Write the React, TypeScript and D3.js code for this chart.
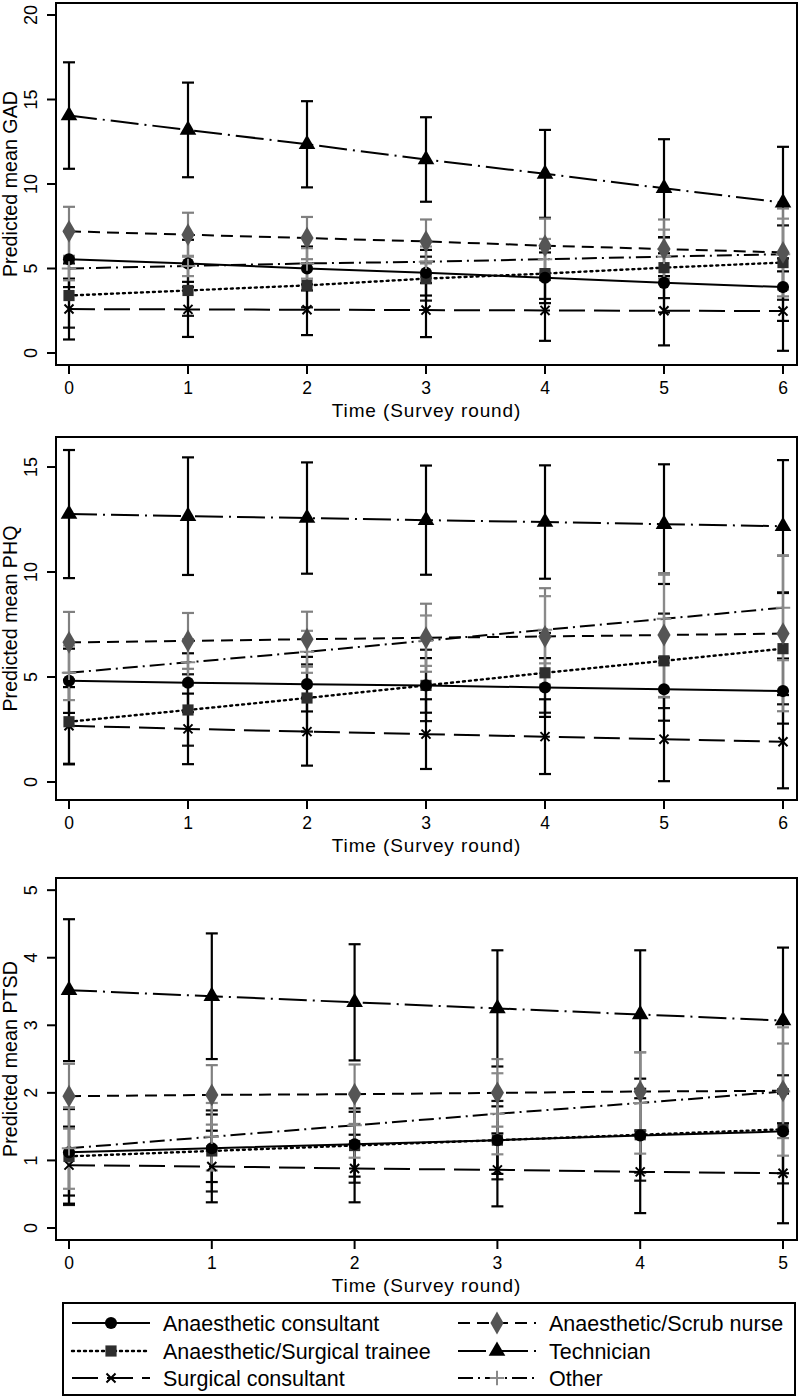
import React from 'react';
import * as d3 from 'd3';

const W = 800;
const H = 1398;

// groups, in legend order (left column then right column, row by row)
const groups = [
  'Anaesthetic consultant',
  'Anaesthetic/Scrub nurse',
  'Anaesthetic/Surgical trainee',
  'Technician',
  'Surgical consultant',
  'Other',
];

// GAD: predicted means and CI half-widths, one row per group
const gadRounds = [0, 1, 2, 3, 4, 5, 6];
const gadMean = [
  [5.55, 5.3, 5.0, 4.75, 4.45, 4.15, 3.9],
  [7.2, 7.0, 6.8, 6.6, 6.35, 6.15, 5.95],
  [3.4, 3.7, 4.0, 4.4, 4.7, 5.05, 5.35],
  [14.05, 13.2, 12.35, 11.45, 10.6, 9.75, 8.9],
  [2.6, 2.58, 2.56, 2.54, 2.52, 2.5, 2.48],
  [5.0, 5.15, 5.3, 5.4, 5.55, 5.7, 5.85],
];
const gadHalf = [
  [1.65, 1.4, 1.3, 1.35, 1.5, 1.75, 2.0],
  [1.45, 1.3, 1.25, 1.3, 1.6, 1.75, 2.6],
  [1.9, 1.5, 1.3, 1.3, 1.5, 1.8, 2.2],
  [3.15, 2.8, 2.55, 2.5, 2.6, 2.9, 3.3],
  [1.8, 1.63, 1.5, 1.6, 1.8, 2.05, 2.35],
  [0.7, 0.6, 0.9, 0.9, 1.2, 1.6, 2.1],
];
const gadTicks = [0, 5, 10, 15, 20];

// PHQ
const phqRounds = [0, 1, 2, 3, 4, 5, 6];
const phqMean = [
  [4.82, 4.73, 4.66, 4.6, 4.5, 4.42, 4.33],
  [6.65, 6.72, 6.8, 6.87, 6.93, 7.0, 7.07],
  [2.87, 3.43, 4.0, 4.6, 5.2, 5.77, 6.35],
  [12.76, 12.66, 12.57, 12.47, 12.38, 12.28, 12.18],
  [2.68, 2.53, 2.4, 2.28, 2.16, 2.04, 1.92],
  [5.2, 5.7, 6.2, 6.73, 7.25, 7.77, 8.3],
];
const phqHalf = [
  [1.53, 1.4, 1.3, 1.3, 1.4, 1.5, 1.55],
  [1.45, 1.33, 1.31, 1.62, 2.3, 2.95, 3.7],
  [2.0, 1.7, 1.6, 1.7, 1.9, 2.25, 2.65],
  [3.05, 2.8, 2.65, 2.6, 2.7, 2.85, 3.15],
  [1.84, 1.68, 1.62, 1.66, 1.78, 2.0, 2.22],
  [1.3, 1.1, 1.0, 1.2, 1.6, 2.1, 2.5],
];
const phqTicks = [0, 5, 10, 15];

// PTSD
const ptsdRounds = [0, 1, 2, 3, 4, 5];
const ptsdMean = [
  [1.12, 1.18, 1.24, 1.3, 1.37, 1.43],
  [1.95, 1.97, 1.98, 2.0, 2.02, 2.03],
  [1.06, 1.14, 1.22, 1.3, 1.38, 1.46],
  [3.52, 3.43, 3.34, 3.25, 3.16, 3.07],
  [0.93, 0.91, 0.88, 0.86, 0.83, 0.81],
  [1.18, 1.35, 1.52, 1.69, 1.85, 2.02],
];
const ptsdHalf = [
  [0.64, 0.5, 0.48, 0.5, 0.55, 0.62],
  [0.48, 0.44, 0.44, 0.5, 0.58, 0.7],
  [0.72, 0.6, 0.55, 0.58, 0.68, 0.8],
  [1.05, 0.93, 0.86, 0.86, 0.95, 1.08],
  [0.57, 0.53, 0.5, 0.54, 0.61, 0.74],
  [0.6, 0.5, 0.48, 0.6, 0.75, 0.95],
];
const ptsdTicks = [0, 1, 2, 3, 4, 5];

const panels = [
  { label: 'Predicted mean GAD', rounds: gadRounds, mean: gadMean, half: gadHalf, ticks: gadTicks, domain: [-0.71, 20.71], top: 3, bottom: 365 },
  { label: 'Predicted mean PHQ', rounds: phqRounds, mean: phqMean, half: phqHalf, ticks: phqTicks, domain: [-0.857, 16.43], top: 437, bottom: 800 },
  { label: 'Predicted mean PTSD', rounds: ptsdRounds, mean: ptsdMean, half: ptsdHalf, ticks: ptsdTicks, domain: [-0.178, 5.18], top: 878, bottom: 1240 },
];

const styles = [
  { dash: 'none', marker: 'circle', fill: '#000', bar: '#000' },
  { dash: '12,7', marker: 'diamond', fill: '#555', bar: '#808080' },
  { dash: '2,4', marker: 'square', fill: '#2e2e2e', bar: '#111' },
  { dash: '28,6,2,6', marker: 'triangle', fill: '#000', bar: '#000' },
  { dash: '26,9', marker: 'x', fill: '#000', bar: '#000' },
  { dash: '15,5,2,5', marker: 'plus', fill: '#8a8a8a', bar: '#8a8a8a' },
];

const FONT = '"Liberation Sans", Arial, Helvetica, sans-serif';
const left = 56;
const right = 797;

const symbolPath = (kind: string) => {
  switch (kind) {
    case 'circle': return d3.symbol(d3.symbolCircle, 115)();
    case 'diamond': return d3.symbol(d3.symbolDiamond, 150)();
    case 'square': return d3.symbol(d3.symbolSquare, 125)();
    case 'triangle': return d3.symbol(d3.symbolTriangle, 120)();
    case 'x': return d3.symbol(d3.symbolTimes, 55)();
    default: return d3.symbol(d3.symbolPlus, 70)();
  }
};

const Marker = ({ kind, x, y, color }: { kind: string; x: number; y: number; color: string }) => {
  const stroked = kind === 'x' || kind === 'plus';
  return (
    <path
      d={symbolPath(kind) || ''}
      transform={`translate(${x},${y})`}
      fill={stroked ? 'none' : color}
      stroke={stroked ? color : 'none'}
      strokeWidth={stroked ? 2 : 0}
    />
  );
};

const barOrder = [0, 2, 3, 4, 1, 5];
const lineOrder = [4, 2, 0, 5, 1, 3];

const Panel = ({ p }: { p: any }) => {
  const n = p.rounds.length - 1;
  const x = d3.scaleLinear().domain([0, n]).range([69, 783]);
  const y = d3.scaleLinear().domain(p.domain).range([p.bottom, p.top]);
  const line = d3.line<number>().x((_, i) => x(p.rounds[i])).y((v) => y(v));
  const cap = 6;
  return (
    <g>
      {/* confidence intervals */}
      {barOrder.map((g) => (
        <g key={'ci' + g} stroke={styles[g].bar} strokeWidth={2.2} fill="none">
          {p.mean[g].map((m: number, i: number) => {
            const cx = x(p.rounds[i]);
            const lo = y(m - p.half[g][i]);
            const hi = y(m + p.half[g][i]);
            return (
              <g key={i}>
                <line x1={cx} x2={cx} y1={lo} y2={hi} />
                <line x1={cx - cap} x2={cx + cap} y1={lo} y2={lo} />
                <line x1={cx - cap} x2={cx + cap} y1={hi} y2={hi} />
              </g>
            );
          })}
        </g>
      ))}
      {/* fitted lines */}
      {lineOrder.map((g) => (
        <path
          key={'l' + g}
          d={line(p.mean[g]) || ''}
          fill="none"
          stroke="#000"
          strokeWidth={g === 2 ? 2.4 : 2}
          strokeDasharray={styles[g].dash}
          strokeLinecap={g === 2 ? 'round' : 'butt'}
        />
      ))}
      {/* markers */}
      {lineOrder.map((g) => (
        <g key={'m' + g}>
          {p.mean[g].map((m: number, i: number) => (
            <Marker key={i} kind={styles[g].marker} x={x(p.rounds[i])} y={y(m)} color={styles[g].fill} />
          ))}
        </g>
      ))}
      {/* frame */}
      <rect x={left} y={p.top} width={right - left} height={p.bottom - p.top} fill="none" stroke="#000" strokeWidth={2} />
      {/* y axis */}
      {p.ticks.map((t: number) => (
        <g key={'yt' + t}>
          <line x1={left - 9} x2={left} y1={y(t)} y2={y(t)} stroke="#000" strokeWidth={2} />
          <text
            transform={`translate(37,${y(t)}) rotate(-90)`}
            textAnchor="middle"
            fontFamily={FONT}
            fontSize={18}
            fill="#000"
          >
            {t}
          </text>
        </g>
      ))}
      <text
        transform={`translate(17,${(p.top + p.bottom) / 2}) rotate(-90)`}
        textAnchor="middle"
        fontFamily={FONT}
        fontSize={19.7}
        fill="#000"
      >
        {p.label}
      </text>
      {/* x axis */}
      {p.rounds.map((r: number) => (
        <g key={'xt' + r}>
          <line x1={x(r)} x2={x(r)} y1={p.bottom} y2={p.bottom + 9} stroke="#000" strokeWidth={2} />
          <text x={x(r)} y={p.bottom + 29} textAnchor="middle" fontFamily={FONT} fontSize={17.5} fill="#000">
            {r}
          </text>
        </g>
      ))}
      <text
        x={(left + right) / 2}
        y={p.bottom + 51.5}
        textAnchor="middle"
        fontFamily={FONT}
        fontSize={19}
        letterSpacing={0.9}
        fill="#000"
      >
        Time (Survey round)
      </text>
    </g>
  );
};

const Legend = () => {
  const box = { x: 63, y: 1303, w: 732, h: 92 };
  const rowY = [1323, 1351, 1378];
  const colX = [72, 458];
  const keyLen = 78;
  return (
    <g>
      <rect x={box.x} y={box.y} width={box.w} height={box.h} fill="#fff" stroke="#000" strokeWidth={2} />
      {groups.map((name, g) => {
        const cx = colX[g % 2];
        const cy = rowY[Math.floor(g / 2)];
        return (
          <g key={name}>
            <line
              x1={cx}
              x2={cx + keyLen}
              y1={cy}
              y2={cy}
              stroke="#000"
              strokeWidth={g === 2 ? 2.4 : 2}
              strokeDasharray={styles[g].dash}
              strokeLinecap={g === 2 ? 'round' : 'butt'}
            />
            <Marker kind={styles[g].marker} x={cx + keyLen / 2} y={cy} color={styles[g].fill} />
            <text x={cx + 91} y={cy + 7.5} fontFamily={FONT} fontSize={21.5} fill="#000">
              {name}
            </text>
          </g>
        );
      })}
    </g>
  );
};

export default function App() {
  return (
    <svg width={W} height={H} style={{ position: 'absolute', left: 0, top: 0, background: '#fff' }}>
      <rect width={W} height={H} fill="#fff" />
      {panels.map((p) => (
        <Panel key={p.label} p={p} />
      ))}
      <Legend />
    </svg>
  );
}
